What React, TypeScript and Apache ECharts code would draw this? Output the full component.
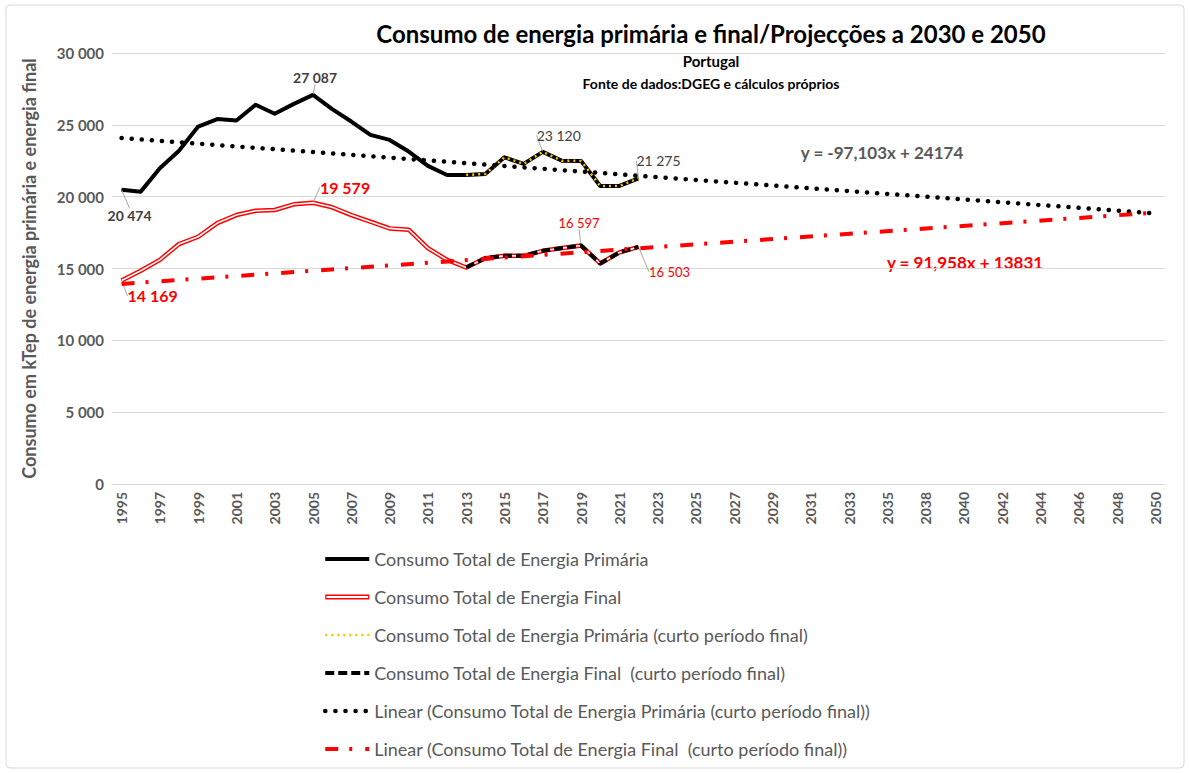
import React, { useEffect, useRef } from "react";
import * as echarts from "echarts";

const categories = [
  "1995", "1996", "1997", "1998", "1999", "2000", "2001", "2002", "2003", "2004",
  "2005", "2006", "2007", "2008", "2009", "2010", "2011", "2012", "2013", "2014",
  "2015", "2016", "2017", "2018", "2019", "2020", "2021", "2022", "2023", "2024",
  "2025", "2026", "2027", "2028", "2029", "2030", "2031", "2032", "2033", "2034",
  "2035", "2036", "2038", "2039", "2040", "2041", "2042", "2043", "2044", "2045",
  "2046", "2047", "2048", "2049", "2050",
];

const primaryTotal = [
  20474, 20350, 21980, 23200, 24880, 25400, 25300, 26400, 25770, 26460,
  27087, 26090, 25230, 24300, 23950, 23140, 22140, 21510, 21510, 21580,
  22740, 22280, 23120, 22500, 22490, 20744, 20744, 21275,
];

const finalTotal = [
  14169, 14840, 15600, 16700, 17210, 18160, 18720, 19020, 19070, 19470,
  19579, 19260, 18720, 18260, 17790, 17700, 16420, 15600, 15070, 15720,
  15880, 15880, 16230, 16420, 16597, 15350, 16120, 16503,
];

const shortPeriodStartYear = "2013";
// trend line values at the first (1995) and last (2050) category
const trendPrimaryEnds = [24077, 18833];
const trendFinalEnds = [13923, 18889];

const primaryLabelYears = ["1995", "2005", "2017", "2022"];
const finalLabelYears = ["1995", "2005", "2019", "2022"];

const seriesNames = [
  "Consumo Total de Energia Primária",
  "Consumo Total de Energia Final",
  "Consumo Total de Energia Primária (curto período final)",
  "Consumo Total de Energia Final  (curto período final)",
  "Linear (Consumo Total de Energia Primária (curto período final))",
  "Linear (Consumo Total de Energia Final  (curto período final))",
];

const equationPrimary = "y = -97,103x + 24174";
const equationFinal = "y = 91,958x + 13831";

const FONT = "Lato, 'Open Sans', sans-serif";

const fmt = (v: number) =>
  String(Math.round(v)).replace(/\B(?=(\d{3})+(?!\d))/g, " ");

// label styles per labelled year (style only, no values)
const primaryLabelStyle: Record<string, any> = {
  "1995": { position: "bottom", distance: 4, fontWeight: "bold", fontSize: 14, dx: 8, dy: 14 },
  "2005": { position: "top", distance: 10, fontWeight: "bold", fontSize: 14, dx: 2, dy: 0 },
  "2017": { position: "top", distance: 9, fontWeight: "normal", fontSize: 14, dx: 16, dy: 0 },
  "2022": { position: "top", distance: 8, fontWeight: "normal", fontSize: 14, dx: 20, dy: -2 },
};
const finalLabelStyle: Record<string, any> = {
  "1995": { position: "bottom", distance: 4, fontWeight: "bold", fontSize: 16, dx: 31, dy: 3 },
  "2005": { position: "top", distance: 6, fontWeight: "bold", fontSize: 16, dx: 32, dy: -1 },
  "2019": { position: "top", distance: 16, fontWeight: "normal", fontSize: 13, dx: -2, dy: 0 },
  "2022": { position: "bottom", distance: 6, fontWeight: "normal", fontSize: 13, dx: 31, dy: 12 },
};

function buildData(values: number[], labelYears: string[], styles: Record<string, any>, color: string) {
  return values.map((v, i) => {
    const year = categories[i];
    if (!labelYears.includes(year)) return v;
    const s = styles[year];
    return {
      value: v,
      symbol: "circle",
      symbolSize: 1,
      label: {
        show: true,
        position: s.position,
        distance: s.distance,
        fontSize: s.fontSize,
        fontWeight: s.fontWeight,
        fontFamily: FONT,
        color,
        formatter: (p: any) => fmt(p.value),
      },
    };
  });
}

function layoutFor(styles: Record<string, any>) {
  return (p: any) => {
    const s = styles[categories[p.dataIndex]];
    if (!s) return {};
    return { dx: s.dx, dy: s.dy };
  };
}

// double-line legend icon (red outline, white core)
const doubleLineIcon =
  "path://M0 0L44 0M0 16L44 16M0 5.5L44 5.5L44 10.5L0 10.5Z M1.2 7L1.2 9L42.8 9L42.8 7Z";

export default function App() {
  const ref = useRef<HTMLDivElement>(null);

  useEffect(() => {
    document.body.style.margin = "0";
    if (!ref.current) return;
    const chart = echarts.init(ref.current, undefined, { renderer: "svg" });

    const startIdx = categories.indexOf(shortPeriodStartYear);
    const shortPrimary = primaryTotal.map((v, i) => (i >= startIdx ? v : null));
    const shortFinal = finalTotal.map((v, i) => (i >= startIdx ? v : null));
    const last = categories.length - 1;
    const trendPrimary = categories.map((_, i) =>
      i === 0 ? trendPrimaryEnds[0] : i === last ? trendPrimaryEnds[1] : null
    );
    const trendFinal = categories.map((_, i) =>
      i === 0 ? trendFinalEnds[0] : i === last ? trendFinalEnds[1] : null
    );

    const labelLine = { show: true, lineStyle: { color: "#a6a6a6", width: 1 } };

    const legendData = seriesNames.map((n, i) =>
      i === 1
        ? { name: n, icon: doubleLineIcon, itemStyle: { color: "#ff0000", opacity: 1, borderWidth: 0 } }
        : { name: n }
    );

    chart.setOption({
      animation: false,
      backgroundColor: "#ffffff",
      textStyle: { fontFamily: FONT },
      grid: { left: 112, right: 25, top: 53, bottom: 289, containLabel: false },
      xAxis: {
        type: "category",
        data: categories,
        boundaryGap: true,
        axisLine: { show: true, lineStyle: { color: "#d9d9d9", width: 1 } },
        axisTick: { show: false },
        axisLabel: {
          rotate: 90,
          interval: 1,
          margin: 8,
          fontSize: 14,
          fontWeight: "bold",
          color: "#595959",
          fontFamily: FONT,
        },
        splitLine: { show: false },
      },
      yAxis: {
        type: "value",
        min: 0,
        max: 30000,
        interval: 5000,
        name: "Consumo em kTep de energia primária e energia final",
        nameLocation: "middle",
        nameGap: 74,
        nameTextStyle: { fontSize: 18, fontWeight: "bold", color: "#595959", fontFamily: FONT },
        axisLine: { show: false },
        axisTick: { show: false },
        axisLabel: {
          fontSize: 15,
          fontWeight: "bold",
          color: "#595959",
          margin: 8,
          fontFamily: FONT,
          formatter: (v: number) => fmt(v),
        },
        splitLine: { lineStyle: { color: "#d9d9d9", width: 1 } },
      },
      legend: {
        data: legendData,
        orient: "vertical",
        left: 318,
        top: 545,
        itemWidth: 44,
        itemHeight: 16,
        itemGap: 20,
        itemStyle: { opacity: 0 },
        lineStyle: { width: "inherit" },
        textStyle: { fontSize: 18, color: "#595959", fontFamily: FONT, lineHeight: 18 },
      },
      graphic: [
        {
          type: "rect",
          shape: { x: 6, y: 5, width: 1178, height: 763, r: 4 },
          style: { fill: "none", stroke: "#d9d9d9", lineWidth: 1 },
          silent: true,
          z: -10,
        },
        {
          type: "text",
          x: 711,
          y: 33,
          style: {
            text: "Consumo de energia primária e final/Projecções a 2030 e 2050",
            fontSize: 24,
            fontWeight: "bold",
            fill: "#000000",
            fontFamily: FONT,
            align: "center",
            verticalAlign: "middle",
          },
        },
        {
          type: "text",
          x: 711,
          y: 61,
          style: {
            text: "Portugal",
            fontSize: 15,
            fontWeight: "bold",
            fill: "#000000",
            fontFamily: FONT,
            align: "center",
            verticalAlign: "middle",
          },
        },
        {
          type: "text",
          x: 711,
          y: 83,
          style: {
            text: "Fonte de dados:DGEG e cálculos próprios",
            fontSize: 14,
            fontWeight: "bold",
            fill: "#000000",
            fontFamily: FONT,
            align: "center",
            verticalAlign: "middle",
          },
        },
        {
          type: "text",
          x: 882,
          y: 152,
          style: {
            text: equationPrimary,
            fontSize: 17,
            fontWeight: "bold",
            fill: "#595959",
            fontFamily: FONT,
            align: "center",
            verticalAlign: "middle",
          },
        },
        {
          type: "text",
          x: 965,
          y: 262,
          style: {
            text: equationFinal,
            fontSize: 17,
            fontWeight: "bold",
            fill: "#ff0000",
            fontFamily: FONT,
            align: "center",
            verticalAlign: "middle",
          },
        },
      ],
      series: [
        {
          name: seriesNames[0],
          type: "line",
          data: buildData(primaryTotal, primaryLabelYears, primaryLabelStyle, "#404040"),
          symbol: "none",
          showAllSymbol: true,
          lineStyle: { color: "#000000", width: 4, join: "round" },
          itemStyle: { color: "#000000" },
          labelLine,
          labelLayout: layoutFor(primaryLabelStyle),
          z: 2,
        },
        {
          name: seriesNames[1],
          type: "line",
          data: buildData(finalTotal, finalLabelYears, finalLabelStyle, "#ff0000"),
          symbol: "none",
          showAllSymbol: true,
          lineStyle: { color: "#ff0000", width: 4.5, join: "round" },
          itemStyle: { color: "#ff0000" },
          labelLine,
          labelLayout: layoutFor(finalLabelStyle),
          z: 2,
        },
        {
          name: "final-inner",
          type: "line",
          data: finalTotal,
          symbol: "none",
          silent: true,
          lineStyle: { color: "#ffffff", width: 1.6, join: "round" },
          itemStyle: { color: "#ffffff" },
          z: 3,
        },
        {
          name: seriesNames[2],
          type: "line",
          data: shortPrimary,
          symbol: "none",
          lineStyle: { color: "#ffc000", width: 2.5, type: [2, 4] },
          itemStyle: { color: "#ffc000" },
          z: 4,
        },
        {
          name: seriesNames[3],
          type: "line",
          data: shortFinal,
          symbol: "none",
          lineStyle: { color: "#000000", width: 4, type: [9, 4] },
          itemStyle: { color: "#000000" },
          z: 4,
        },
        {
          name: seriesNames[4],
          type: "line",
          data: trendPrimary,
          connectNulls: true,
          symbol: "none",
          lineStyle: { color: "#000000", width: 4.5, type: [0.1, 10], cap: "round" },
          itemStyle: { color: "#000000" },
          z: 5,
        },
        {
          name: seriesNames[5],
          type: "line",
          data: trendFinal,
          connectNulls: true,
          symbol: "none",
          lineStyle: { color: "#ff0000", width: 4, type: [13, 11, 3, 13] },
          itemStyle: { color: "#ff0000" },
          z: 5,
        },
      ],
    });

    return () => {
      chart.dispose();
    };
  }, []);

  return <div ref={ref} style={{ width: 1190, height: 773 }} />;
}
